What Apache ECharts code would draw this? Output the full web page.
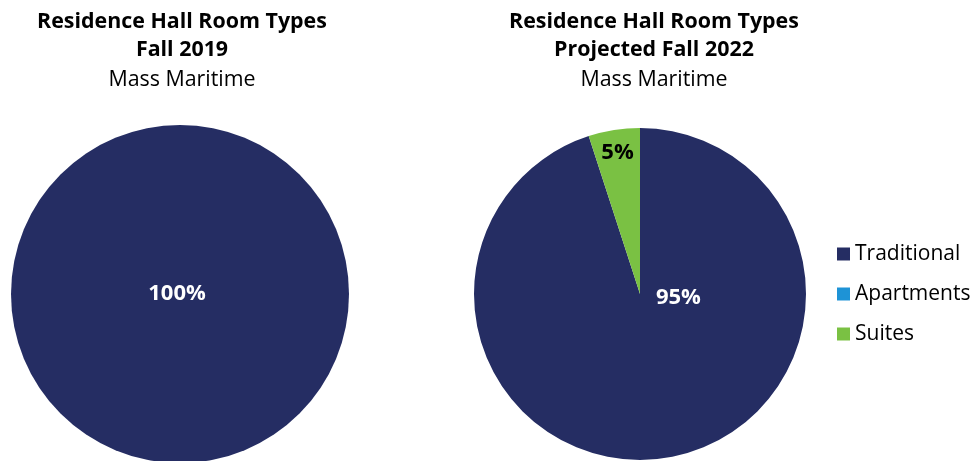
<!DOCTYPE html>
<html>
<head>
<meta charset="utf-8">
<script src="https://cdn.jsdelivr.net/npm/echarts@6/dist/echarts.min.js"></script>
<style>
  html, body { margin: 0; padding: 0; background: #fff; }
  #chart { width: 977px; height: 461px; }
</style>
</head>
<body>
<div id="chart"></div>
<script>
// room types and shares (%)
const categories = ['Traditional', 'Apartments', 'Suites'];
const fall2019 = [100, 0, 0];
const fall2022 = [95, 0, 5];
const colors = ['#252D63', '#1E93D6', '#7AC143'];

const font = '"Open Sans", "Noto Sans", sans-serif';

// label nudges so they sit where the original put them
const labelOffsets2019 = [[-3, 0], [0, 0], [0, 0]];
const labelOffsets2022 = [[25, -81], [0, 0], [-9, -56]];

function buildData(values, offsets, labelColors, pos) {
    return categories.map((name, i) => ({
        name: name,
        value: values[i],
        itemStyle: { color: colors[i] },
        label: {
            show: values[i] > 0,
            position: pos,
            offset: offsets[i],
            color: labelColors[i]
        }
    }));
}

const titleStyle = { fontFamily: font, fontSize: 21.4, fontWeight: 'bold', color: '#000', lineHeight: 28 };
const subStyle = { fontFamily: font, fontSize: 21.4, color: '#000', lineHeight: 28 };

const chart = echarts.init(document.getElementById('chart'));
chart.setOption({
    animation: false,
    title: [
        {
            text: 'Residence Hall Room Types\nFall 2019',
            subtext: 'Mass Maritime',
            left: 177, top: 3, textAlign: 'center', itemGap: 2,
            textStyle: titleStyle,
            subtextStyle: subStyle
        },
        {
            text: 'Residence Hall Room Types\nProjected Fall 2022',
            subtext: 'Mass Maritime',
            left: 649, top: 3, textAlign: 'center', itemGap: 2,
            textStyle: titleStyle,
            subtextStyle: subStyle
        }
    ],
    legend: {
        orient: 'vertical',
        left: 832, top: 238,
        itemWidth: 13, itemHeight: 13, itemGap: 18,
        icon: 'rect',
        data: categories,
        textStyle: { fontFamily: font, fontSize: 21, color: '#000', lineHeight: 22 }
    },
    series: [
        {
            type: 'pie',
            center: [180, 294],
            radius: 169,
            startAngle: 90,
            silent: true,
            label: { fontFamily: font, fontSize: 22, fontWeight: 'bold', formatter: '{c}%' },
            labelLine: { show: false },
            data: buildData(fall2019, labelOffsets2019, ['#fff', '#fff', '#000'], 'center')
        },
        {
            type: 'pie',
            center: [640, 294],
            radius: 166,
            startAngle: 90,
            silent: true,
            label: { fontFamily: font, fontSize: 22, fontWeight: 'bold', formatter: '{c}%' },
            labelLine: { show: false },
            data: buildData(fall2022, labelOffsets2022, ['#fff', '#fff', '#000'], 'inside')
        }
    ]
});
</script>
</body>
</html>
